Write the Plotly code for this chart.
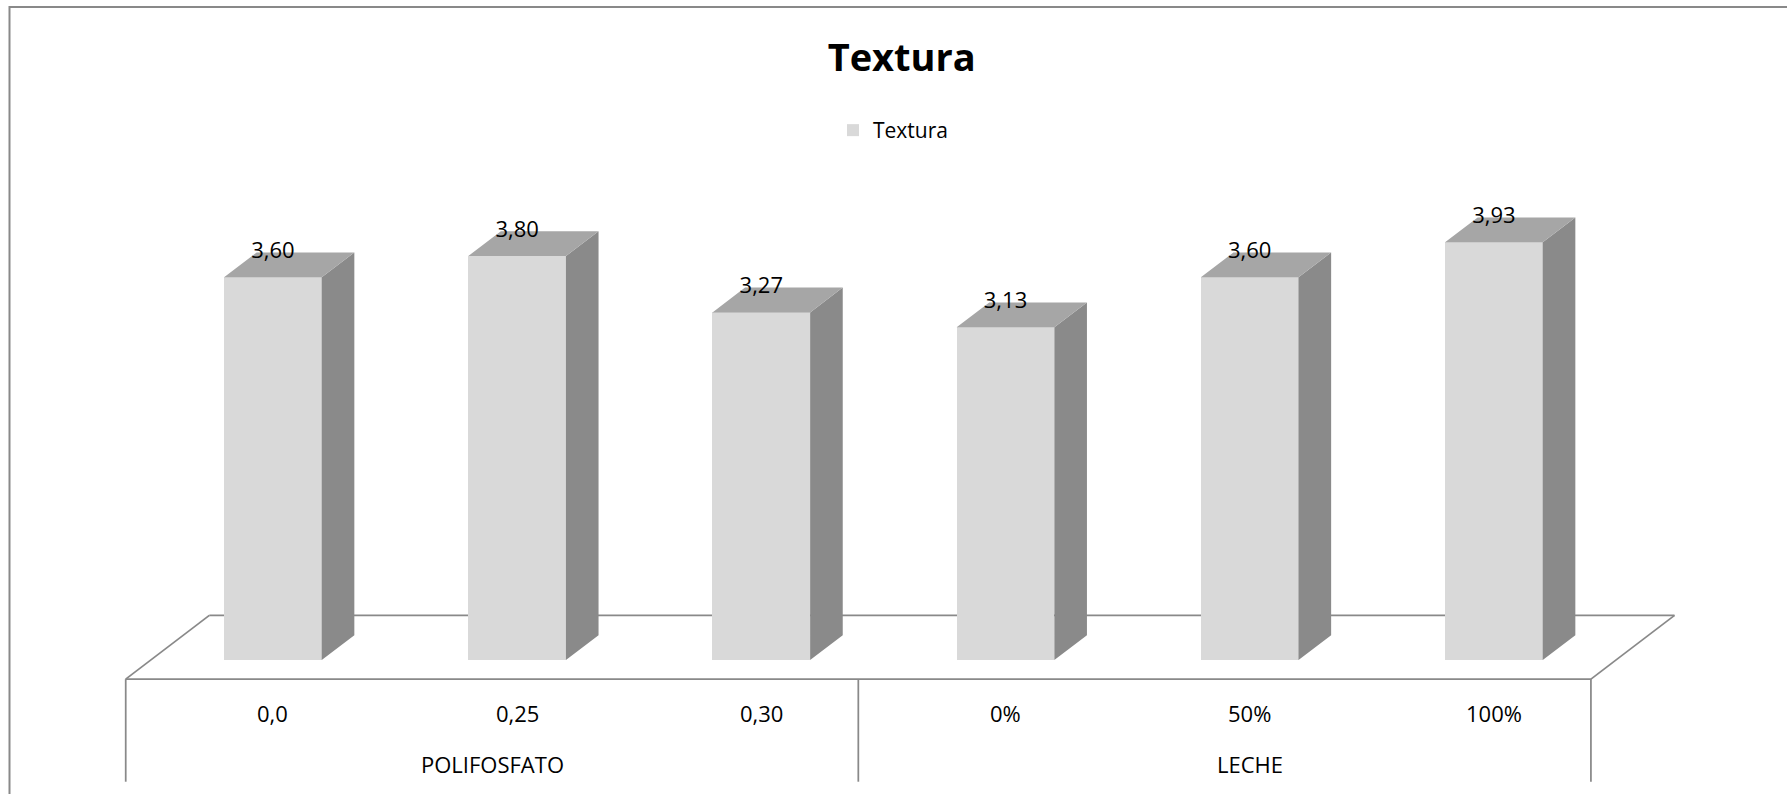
import plotly.graph_objects as go

# datos del gráfico
categorias = ["0,0", "0,25", "0,30", "0%", "50%", "100%"]
grupos = ["POLIFOSFATO", "LECHE"]
textura = [3.60, 3.80, 3.27, 3.13, 3.60, 3.93]
serie = "Textura"

# colores estilo Excel 3D en gris
C_FRENTE = "#D9D9D9"
C_TECHO = "#A6A6A6"
C_LADO = "#8A8A8A"
C_LINEA = "#898989"

W, H = 1787, 794
# escala: 1 categoría = 244.2 px, 1 unidad de valor = 106.3 px
X_RANGE = [-272.9 / 244.2, (W - 272.9) / 244.2]
Y_RANGE = [-(H - 660) / 106.3, 660 / 106.3]

# vector de profundidad (piso completo) en unidades de datos
DX, DY = 83.6 / 244.2, 63.7 / 106.3
FRENTE_BARRA, FONDO_BARRA = 0.30, 0.69
ANCHO = 0.4
prof = FONDO_BARRA - FRENTE_BARRA

n = len(categorias)
xs = list(range(n))

fig = go.Figure()

# caras frontales
fig.add_trace(go.Bar(
    x=xs, y=textura, width=ANCHO, name=serie,
    marker=dict(color=C_FRENTE, line=dict(width=0)),
    hoverinfo="skip", showlegend=True,
))

# caras laterales y superiores calculadas desde los valores
lado_x, lado_y, techo_x, techo_y = [], [], [], []
for i, v in zip(xs, textura):
    x0, x1 = i - ANCHO / 2, i + ANCHO / 2
    ox, oy = prof * DX, prof * DY
    lado_x += [x1, x1, x1 + ox, x1 + ox, x1, None]
    lado_y += [0, v, v + oy, oy, 0, None]
    techo_x += [x0, x1, x1 + ox, x0 + ox, x0, None]
    techo_y += [v, v, v + oy, v + oy, v, None]

fig.add_trace(go.Scatter(x=lado_x, y=lado_y, mode="lines", fill="toself",
                         fillcolor=C_LADO, line=dict(width=0, color=C_LADO),
                         hoverinfo="skip", showlegend=False))
fig.add_trace(go.Scatter(x=techo_x, y=techo_y, mode="lines", fill="toself",
                         fillcolor=C_TECHO, line=dict(width=0, color=C_TECHO),
                         hoverinfo="skip", showlegend=False))

# etiquetas de datos
fig.add_trace(go.Scatter(
    x=xs, y=[v + prof * DY for v in textura], mode="text",
    text=[f"{v:.2f}".replace(".", ",") for v in textura],
    textposition="middle center",
    textfont=dict(family="Open Sans", size=22, color="#000000"),
    hoverinfo="skip", showlegend=False,
))

# piso y tabla de categorías (debajo de las barras)
fx0 = -0.5 - FRENTE_BARRA * DX
fx1 = n - 0.5 - FRENTE_BARRA * DX
fy = -FRENTE_BARRA * DY
shapes = []
linea = dict(color=C_LINEA, width=1.75)
piso = [
    (fx0, fy, fx1, fy),
    (fx0 + DX, fy + DY, fx1 + DX, fy + DY),
    (fx0, fy, fx0 + DX, fy + DY),
    (fx1, fy, fx1 + DX, fy + DY),
]
y_tabla = -1.145
divisor = fx0 + 3
for xv in [fx0, divisor, fx1]:
    piso.append((xv, fy, xv, y_tabla))
for a, b, c, d in piso:
    shapes.append(dict(type="line", xref="x", yref="y", x0=a, y0=b, x1=c, y1=d,
                       line=linea, layer="below"))

# borde del área del gráfico
shapes.append(dict(type="rect", xref="paper", yref="paper",
                   x0=9.5 / W, x1=1.01, y0=-0.05, y1=1 - 7 / H,
                   line=dict(color=C_LINEA, width=2), fillcolor="rgba(0,0,0,0)",
                   layer="below"))

annotations = []
for i, cat in enumerate(categorias):
    annotations.append(dict(x=i, y=-0.5014, xref="x", yref="y", text=cat,
                            showarrow=False, xanchor="center", yanchor="middle",
                            font=dict(family="Open Sans", size=22, color="#000000")))
grupo_x = [(fx0 + divisor) / 2, 4.0]
for gx, g in zip(grupo_x, grupos):
    annotations.append(dict(x=gx, y=-0.9746, xref="x", yref="y", text=g,
                            showarrow=False, xanchor="center", yanchor="middle",
                            font=dict(family="Open Sans", size=22, color="#000000")))

fig.update_layout(
    width=W, height=H,
    margin=dict(l=0, r=0, t=0, b=0),
    paper_bgcolor="white", plot_bgcolor="white",
    title=dict(text="<b>Textura</b>", x=901.7 / W, y=1 - 57.7 / H,
               xanchor="center", yanchor="middle",
               font=dict(family="Open Sans", size=38, color="#000000")),
    legend=dict(x=833 / W, y=1 - 130.5 / H, xanchor="left", yanchor="middle",
                bgcolor="rgba(0,0,0,0)",
                font=dict(family="Open Sans", size=21, color="#000000")),
    xaxis=dict(range=X_RANGE, visible=False, fixedrange=True),
    yaxis=dict(range=Y_RANGE, visible=False, fixedrange=True),
    shapes=shapes,
    annotations=annotations,
    bargap=0,
)

# sin margen del body para que el gráfico quede en (0, 0)
fig.write_html("out.html", config={"displayModeBar": False},
               post_script="document.body.style.margin='0';")
